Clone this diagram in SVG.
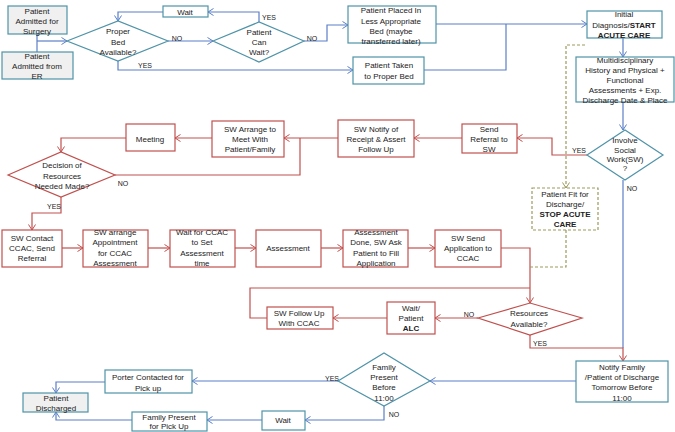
<svg xmlns="http://www.w3.org/2000/svg" width="675" height="432" viewBox="0 0 675 432">
<defs>
<marker id="ab" markerWidth="8" markerHeight="8" refX="6.5" refY="4" orient="auto" markerUnits="userSpaceOnUse"><path d="M1,0.5 L6.5,4 L1,7.5" fill="none" stroke="#5b7fc7" stroke-width="1"/></marker>
<marker id="ar" markerWidth="8" markerHeight="8" refX="6.5" refY="4" orient="auto" markerUnits="userSpaceOnUse"><path d="M1,0.5 L6.5,4 L1,7.5" fill="none" stroke="#c0504d" stroke-width="1"/></marker>
<marker id="ad" markerWidth="8" markerHeight="8" refX="6.5" refY="4" orient="auto" markerUnits="userSpaceOnUse"><path d="M1,0.5 L6.5,4 L1,7.5" fill="none" stroke="#9c9a5c" stroke-width="1"/></marker>
</defs>
<style>
text{font-family:"Liberation Sans",Arial,sans-serif;font-size:8px;fill:#222;text-anchor:middle}
.lb{font-size:7px}
.b{font-weight:bold}
.bx{fill:#fff;stroke:#4f93a8;stroke-width:1.2}
.gx{fill:#f0f0f0;stroke:#4f93a8;stroke-width:1.2}
.rx{fill:#fff;stroke:#c0504d;stroke-width:1.2}
.dx{fill:#fff;stroke:#9c9a5c;stroke-width:1.2;stroke-dasharray:3,2}
.bl{fill:none;stroke:#5b7fc7;stroke-width:1.2}
.rl{fill:none;stroke:#c0504d;stroke-width:1.2}
.dl{fill:none;stroke:#9c9a5c;stroke-width:1.2;stroke-dasharray:3,2}
</style>
<rect width="675" height="432" fill="#fff"/>
<g id="connectors">
<path class="bl" d="M37,34 V52"/>
<path class="bl" d="M37,41 H67" marker-end="url(#ab)"/>
<path class="bl" d="M168,41 H213" marker-end="url(#ab)"/>
<path class="bl" d="M259,22 V12 H208" marker-end="url(#ab)"/>
<path class="bl" d="M163,12 H118 V21" marker-end="url(#ab)"/>
<path class="bl" d="M304,41 H327 V25 H348" marker-end="url(#ab)"/>
<path class="bl" d="M118,61 V70 H353" marker-end="url(#ab)"/>
<path class="bl" d="M436,24 H587" marker-end="url(#ab)"/>
<path class="bl" d="M424,70 H506 V24"/>
<path class="bl" d="M623,38 V57" marker-end="url(#ab)"/>
<path class="bl" d="M623,102 V130" marker-end="url(#ab)"/>
<path class="bl" d="M623,180 V348"/>
<path class="bl" d="M576,381 H430" marker-end="url(#ab)"/>
<path class="bl" d="M338,381 H192" marker-end="url(#ab)"/>
<path class="bl" d="M105,382 H56 V393" marker-end="url(#ab)"/>
<path class="bl" d="M384,406 V420 H305" marker-end="url(#ab)"/>
<path class="bl" d="M262,420 H207" marker-end="url(#ab)"/>
<path class="bl" d="M132,420 H56 V412" marker-end="url(#ab)"/>
<path class="rl" d="M587,155 H552 V138 H517" marker-end="url(#ar)"/>
<path class="rl" d="M462,138 H414" marker-end="url(#ar)"/>
<path class="rl" d="M338,138 H284" marker-end="url(#ar)"/>
<path class="rl" d="M212,138 H175" marker-end="url(#ar)"/>
<path class="rl" d="M126,138 H61 V152" marker-end="url(#ar)"/>
<path class="rl" d="M115,175 H300 V138"/>
<path class="rl" d="M61,197 V213 H32 V230" marker-end="url(#ar)"/>
<path class="rl" d="M62,248 H83" marker-end="url(#ar)"/>
<path class="rl" d="M148,248 H170" marker-end="url(#ar)"/>
<path class="rl" d="M235,248 H256" marker-end="url(#ar)"/>
<path class="rl" d="M321,248 H343" marker-end="url(#ar)"/>
<path class="rl" d="M408,248 H435" marker-end="url(#ar)"/>
<path class="rl" d="M501,248 H530 V303" marker-end="url(#ar)"/>
<path class="rl" d="M478,318 H435" marker-end="url(#ar)"/>
<path class="rl" d="M387,318 H333" marker-end="url(#ar)"/>
<path class="rl" d="M267,318 H250 V288 H530"/>
<path class="rl" d="M530,335 V348 H623 V361" marker-end="url(#ar)"/>
<path class="dl" d="M585,45 H566 V188" marker-end="url(#ad)"/>
<path class="dl" d="M566,230 V267 H530"/>
<text class="lb" x="177" y="41">NO</text>
<text class="lb" x="145" y="68">YES</text>
<text class="lb" x="269" y="20">YES</text>
<text class="lb" x="312" y="41">NO</text>
<text class="lb" x="579" y="153">YES</text>
<text class="lb" x="632" y="191">NO</text>
<text class="lb" x="123" y="186">NO</text>
<text class="lb" x="54" y="209">YES</text>
<text class="lb" x="469" y="317">NO</text>
<text class="lb" x="540" y="346">YES</text>
<text class="lb" x="332" y="381">YES</text>
<text class="lb" x="394" y="417">NO</text>
</g>
<g id="n_surgery"><rect class="gx" x="8" y="6" width="59" height="28"/><text x="37" y="14">Patient</text><text x="37" y="24">Admitted for</text><text x="37" y="34">Surgery</text></g>
<g id="n_er"><rect class="gx" x="2" y="52" width="71" height="27"/><text x="37" y="59">Patient</text><text x="37" y="69">Admitted from</text><text x="37" y="79">ER</text></g>
<g id="n_properbed"><polygon class="bx" points="67,41 118,21 168,41 118,61"/><text x="118" y="34">Proper</text><text x="118" y="45">Bed</text><text x="118" y="55">Available?</text></g>
<g id="n_wait1"><rect class="bx" x="163" y="6" width="45" height="11"/><text x="185" y="14.5">Wait</text></g>
<g id="n_canwait"><polygon class="bx" points="213,41 259,22 304,41 259,62"/><text x="259" y="35">Patient</text><text x="259" y="45">Can</text><text x="259" y="55">Wait?</text></g>
<g id="n_lessbed"><rect class="bx" x="348" y="6" width="88" height="37"/><text x="391" y="13">Patient Placed In</text><text x="391" y="24">Less Appropriate</text><text x="391" y="34">Bed (maybe</text><text x="391" y="44">transferred later)</text></g>
<g id="n_properbedbox"><rect class="bx" x="353" y="57" width="71" height="27"/><text x="389" y="68">Patient Taken</text><text x="389" y="79">to Proper Bed</text></g>
<g id="n_initial"><rect class="bx" x="587" y="11" width="75" height="27"/><text x="624" y="17">Initial</text><text x="624" y="28">Diagnosis/<tspan class="b">START</tspan></text><text x="624" y="38" class="b">ACUTE CARE</text></g>
<g id="n_multi"><rect class="bx" x="576" y="57" width="98" height="45"/><text x="625" y="63">Multidisciplinary</text><text x="625" y="73">History and Physical +</text><text x="625" y="83">Functional</text><text x="625" y="93">Assessments + Exp.</text><text x="625" y="103">Discharge Date &amp; Place</text></g>
<g id="n_involve"><polygon class="bx" points="587,155 625,130 663,155 625,180"/><text x="625" y="143">Involve</text><text x="625" y="153">Social</text><text x="625" y="162">Work(SW)</text><text x="625" y="171">?</text></g>
<g id="n_fit"><rect class="dx" x="532" y="188" width="66" height="42"/><text x="565" y="197">Patient Fit for</text><text x="565" y="207">Discharge/</text><text x="565" y="217" class="b">STOP ACUTE</text><text x="565" y="227" class="b">CARE</text></g>
<g id="n_sendref"><rect class="rx" x="462" y="124" width="55" height="29"/><text x="489" y="132">Send</text><text x="489" y="142">Referral to</text><text x="489" y="152">SW</text></g>
<g id="n_swnotify"><rect class="rx" x="338" y="120" width="76" height="37"/><text x="376" y="132">SW Notify of</text><text x="376" y="142">Receipt &amp; Assert</text><text x="376" y="152">Follow Up</text></g>
<g id="n_swarrange"><rect class="rx" x="212" y="121" width="72" height="36"/><text x="250" y="132">SW Arrange to</text><text x="250" y="142">Meet With</text><text x="250" y="152">Patient/Family</text></g>
<g id="n_meeting"><rect class="rx" x="126" y="124" width="49" height="27"/><text x="150" y="142">Meeting</text></g>
<g id="n_decision"><polygon class="rx" points="8,175 61,152 115,175 61,197"/><text x="62" y="168">Decision of</text><text x="62" y="179">Resources</text><text x="62" y="189">Needed Made?</text></g>
<g id="n_swcontact"><rect class="rx" x="2" y="230" width="60" height="37"/><text x="32" y="241">SW Contact</text><text x="32" y="251">CCAC, Send</text><text x="32" y="261">Referral</text></g>
<g id="n_swappt"><rect class="rx" x="83" y="230" width="65" height="37"/><text x="115" y="235">SW arrange</text><text x="115" y="245">Appointment</text><text x="115" y="256">for CCAC</text><text x="115" y="266">Assessment</text></g>
<g id="n_waitccac"><rect class="rx" x="170" y="230" width="65" height="37"/><text x="202" y="235">Wait for CCAC</text><text x="202" y="245">to Set</text><text x="202" y="256">Assessment</text><text x="202" y="266">time</text></g>
<g id="n_assess"><rect class="rx" x="256" y="230" width="65" height="37"/><text x="288" y="251">Assessment</text></g>
<g id="n_assessdone"><rect class="rx" x="343" y="230" width="65" height="37"/><text x="376" y="235">Assessment</text><text x="376" y="245">Done, SW Ask</text><text x="376" y="256">Patient to Fill</text><text x="376" y="266">Application</text></g>
<g id="n_swsend"><rect class="rx" x="435" y="230" width="66" height="37"/><text x="468" y="241">SW Send</text><text x="468" y="251">Application to</text><text x="468" y="261">CCAC</text></g>
<g id="n_resources"><polygon class="rx" points="478,318 530,303 582,318 530,335"/><text x="529" y="316">Resources</text><text x="529" y="327">Available?</text></g>
<g id="n_waitalc"><rect class="rx" x="387" y="302" width="48" height="32"/><text x="411" y="311">Wait/</text><text x="411" y="321">Patient</text><text x="411" y="331" class="b">ALC</text></g>
<g id="n_followup"><rect class="rx" x="267" y="307" width="66" height="22"/><text x="299" y="316">SW Follow Up</text><text x="299" y="326">With CCAC</text></g>
<g id="n_notify"><rect class="bx" x="576" y="361" width="92" height="41"/><text x="622" y="370">Notify Family</text><text x="622" y="380">/Patient of Discharge</text><text x="622" y="390">Tomorrow Before</text><text x="622" y="401">11:00</text></g>
<g id="n_familypresent"><polygon class="bx" points="338,381 384,353 430,381 384,406"/><text x="384" y="370">Family</text><text x="384" y="380">Present</text><text x="384" y="390">Before</text><text x="384" y="401">11:00</text></g>
<g id="n_porter"><rect class="bx" x="105" y="370" width="87" height="23"/><text x="148" y="380">Porter Contacted for</text><text x="148" y="391">Pick up</text></g>
<g id="n_discharged"><rect class="gx" x="23" y="393" width="65" height="19"/><text x="56" y="401">Patient</text><text x="56" y="411">Discharged</text></g>
<g id="n_familypickup"><rect class="bx" x="132" y="412" width="75" height="19"/><text x="169" y="420">Family Present</text><text x="169" y="429">for Pick Up</text></g>
<g id="n_wait2"><rect class="bx" x="262" y="411" width="43" height="19"/><text x="283" y="423">Wait</text></g>
</svg>
